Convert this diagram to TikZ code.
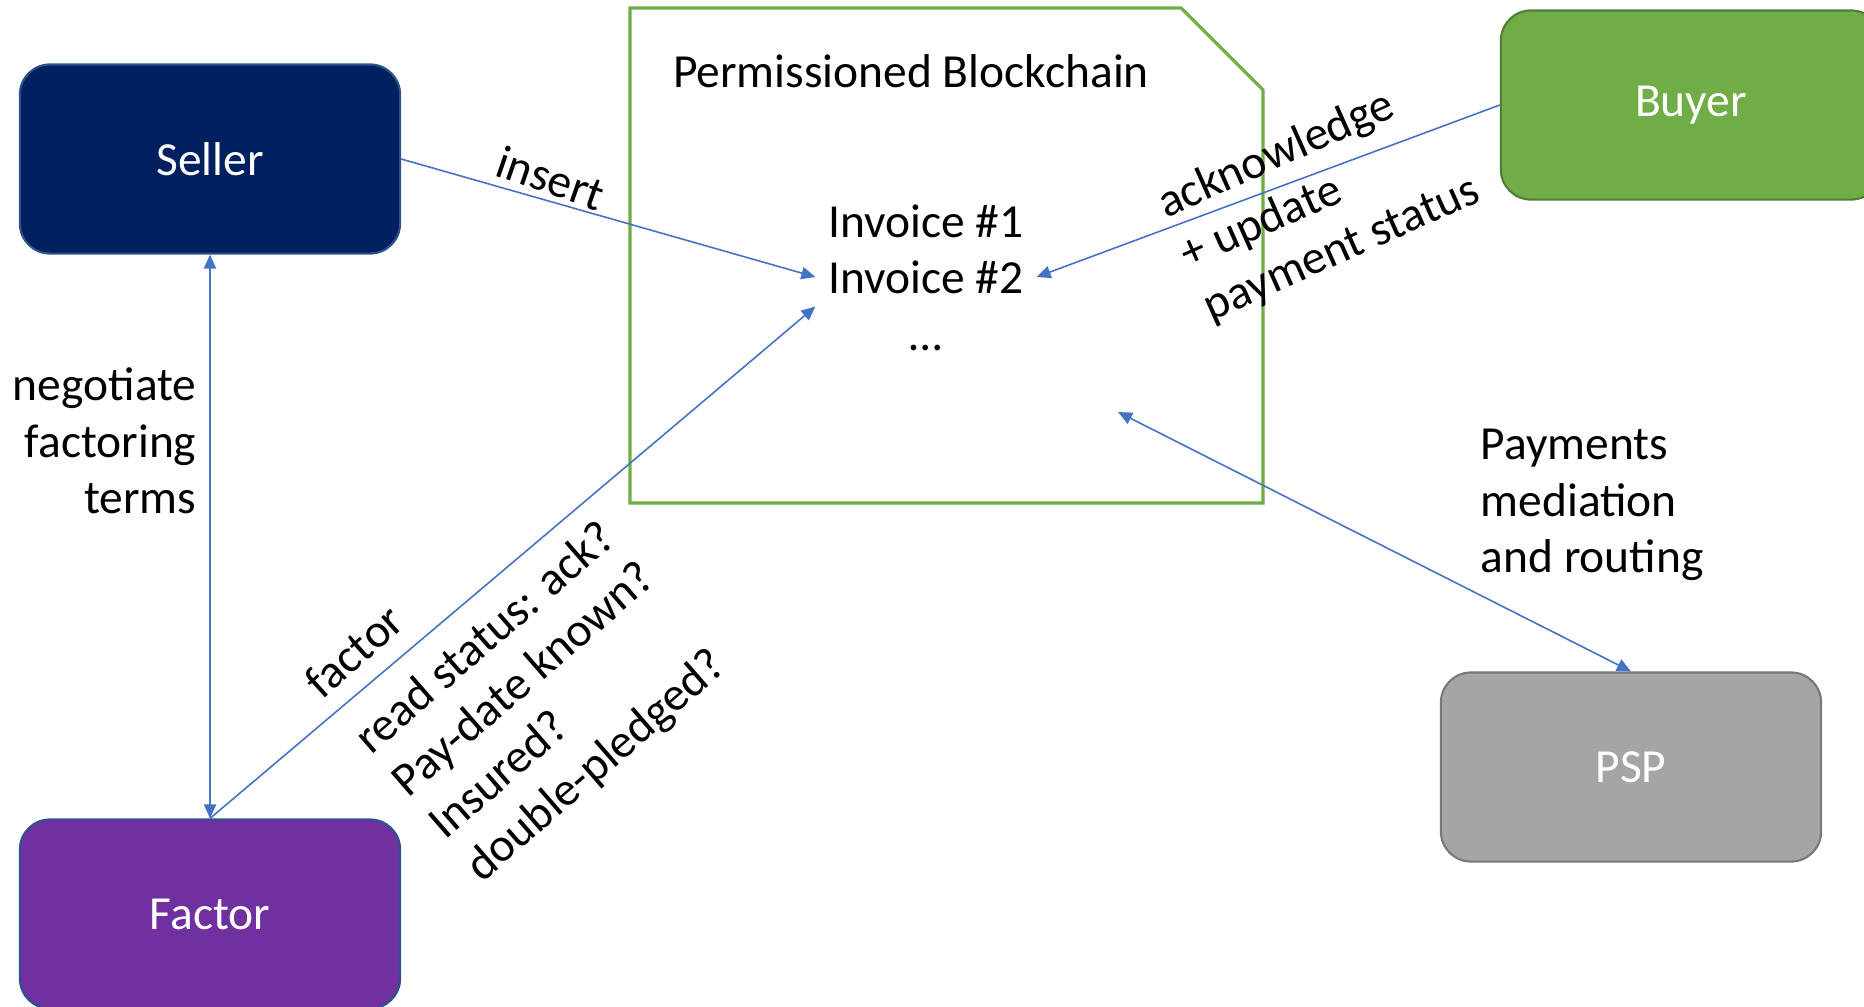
\documentclass[tikz,border=0pt]{standalone}
\usepackage{fontspec}
\setmainfont{Carlito}
\usepackage{xcolor}
\usetikzlibrary{positioning,arrows.meta}
\definecolor{sellerblue}{HTML}{002060}
\definecolor{factorpurple}{HTML}{7030A0}
\definecolor{buyergreen}{HTML}{70AD47}
\definecolor{buyeredge}{HTML}{507E32}
\definecolor{pspgray}{HTML}{A5A5A5}
\definecolor{pspedge}{HTML}{787878}
\definecolor{edgeblue}{HTML}{2F528F}
\definecolor{linkblue}{HTML}{4472C4}
\definecolor{chaingreen}{HTML}{70AD47}

\begin{document}
\begin{tikzpicture}[x=0.01cm, y=-0.01cm, node distance=0.56cm,
    every node/.style={font=\fontsize{13.5}{16}\selectfont, align=center},
    party/.style={rectangle, rounded corners=0.3cm, minimum width=3.8cm, minimum height=1.89cm, line width=0.6pt, text=white},
    link/.style={draw=linkblue, line width=0.45pt},
    lbl/.style={inner sep=0pt},
    >={Triangle[length=4pt,width=3.5pt]}]
    \useasboundingbox (0,0) rectangle (1864,1006);

    % ledger with cut corner
    \draw [chaingreen, line width=0.9pt] (630,8) -- (1181,8) -- (1263,90) -- (1263,503) -- (630,503) -- cycle;
    \node [lbl] (chain) at (911,71) {Permissioned Blockchain};
    \node [inner sep=3.5pt] (inv2) at (926,277) {Invoice \#2};
    \node [above of=inv2] (inv1) {Invoice \#1};
    \node [below of=inv2, node distance=0.71cm] (dots) {\dots};
    \coordinate (pspend) at (1118,412);

    % parties
    \node [party, fill=sellerblue, draw=edgeblue] (seller) at (210,159) {Seller};
    \node [party, fill=factorpurple, draw=edgeblue] (factor) at (210,914) {Factor};
    \node [party, fill=buyergreen, draw=buyeredge] (buyer) at (1691,105) {Buyer};
    \node [party, fill=pspgray, draw=pspedge] (psp) at (1631,767) {PSP};

    \draw [link, <->] (seller.south) -- (factor.north);
    \draw [link, ->] (seller.east) -- (inv2.west);
    \draw [link, ->] (factor.north) -- (inv2.south west);
    \draw [link, ->] (buyer.west) -- (inv2.east);
    \draw [link, <->] (pspend) -- (psp.north);

    % labels
    \node [lbl, rotate=-19] (insertlbl) at (551,178) {insert};
    \node [lbl, align=right, anchor=east] (negolbl) at (197,441) {negotiate\\factoring\\terms};
    \node [lbl, rotate=42] (factorlbl) at (354,651) {factor};
    \node [lbl, align=left, rotate=41] (checks) at (543,702) {read status: ack?\\Pay-date known?\\Insured?\\double-pledged?};
    \node [lbl, align=left, rotate=24] (acklbl) at (1319,198) {acknowledge\\+ update\\payment status};
    \node [lbl, align=left, anchor=west] (psplbl) at (1480,505) {Payments\\mediation\\and routing};
\end{tikzpicture}
\end{document}
